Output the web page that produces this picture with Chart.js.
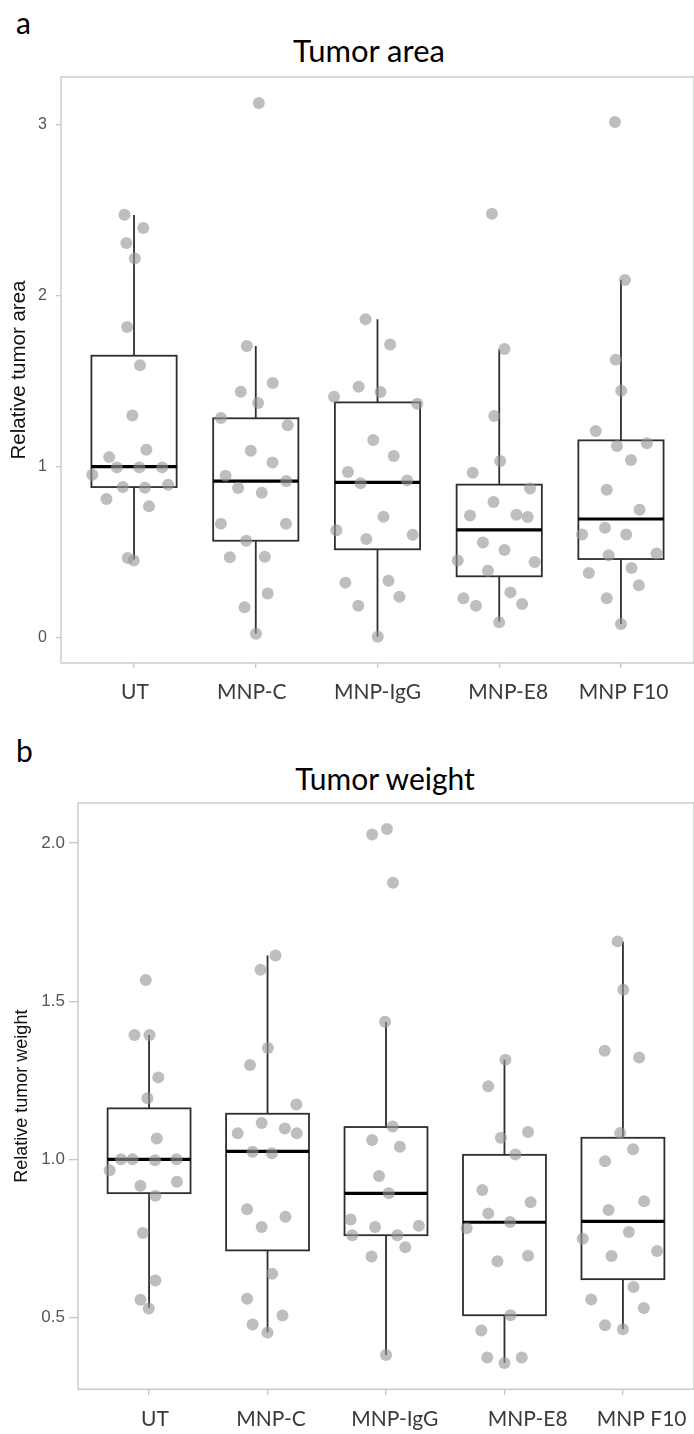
<!DOCTYPE html>
<html>
<head>
<meta charset="utf-8">
<script src="https://cdn.jsdelivr.net/npm/chart.js@4/dist/chart.umd.min.js"></script>
<style>
  html, body { margin: 0; padding: 0; background: #fff; overflow: hidden; }
  #page { position: relative; width: 694px; height: 1434px; overflow: hidden; background: #fff; }
  .wrap { position: absolute; left: 0; }
  .txt { position: absolute; font-family: Lato, "Open Sans", sans-serif; color: #000; line-height: 1; white-space: nowrap; }
</style>
</head>
<body>
<div id="page">
  <div class="txt" style="left:16px; top:7px; font-size:30px;">a</div>
  <div class="txt" style="left:369px; top:35px; font-size:31px; transform:translateX(-50%);">Tumor area</div>
  <div class="wrap" style="top:0;"><canvas id="chartArea" width="700" height="720"></canvas></div>

  <div class="txt" style="left:16px; top:735px; font-size:30px;">b</div>
  <div class="txt" style="left:385px; top:763px; font-size:30px; transform:translateX(-50%);">Tumor weight</div>
  <div class="wrap" style="top:730px;"><canvas id="chartWeight" width="700" height="704"></canvas></div>
</div>

<script>
// ---- shared categories ----
const categories = ["UT", "MNP-C", "MNP-IgG", "MNP-E8", "MNP F10"];

// ---- Tumor area: individual tumours (relative area) ----
const areaUT   = [2.475, 2.398, 2.310, 2.220, 1.819, 1.595, 1.302, 1.058, 1.101, 0.998, 0.998, 0.998, 0.955, 0.883, 0.879, 0.897, 0.813, 0.770, 0.468, 0.454];
const areaC    = [3.129, 1.708, 1.491, 1.440, 1.374, 1.287, 1.244, 1.095, 1.027, 0.949, 0.918, 0.877, 0.850, 0.669, 0.669, 0.569, 0.472, 0.476, 0.260, 0.180, 0.025];
const areaIgG  = [1.865, 1.717, 1.411, 1.470, 1.439, 1.370, 1.158, 1.064, 0.971, 0.905, 0.922, 0.709, 0.604, 0.579, 0.630, 0.324, 0.335, 0.242, 0.189, 0.008];
const areaE8   = [2.481, 1.690, 1.298, 1.035, 0.967, 0.875, 0.795, 0.717, 0.721, 0.708, 0.559, 0.515, 0.444, 0.454, 0.394, 0.267, 0.232, 0.189, 0.199, 0.092];
const areaF10  = [3.018, 2.094, 1.628, 1.446, 1.211, 1.123, 1.139, 1.041, 0.867, 0.750, 0.645, 0.606, 0.606, 0.484, 0.495, 0.409, 0.380, 0.308, 0.232, 0.082];

// horizontal jitter of each point (category units)
const areaJitUT  = [-0.079, 0.076, -0.063, 0.006, -0.057, 0.049, -0.014, -0.204, 0.101, -0.141, 0.043, 0.231, -0.343, -0.092, 0.090, 0.280, -0.226, 0.123, -0.052, -0.002];
const areaJitC   = [0.025, -0.074, 0.139, -0.123, 0.019, -0.286, 0.262, -0.041, 0.137, -0.248, 0.251, -0.145, 0.049, -0.286, 0.248, -0.079, -0.213, 0.074, 0.098, -0.092, 0.002];
const areaJitIgG = [-0.098, 0.104, -0.357, -0.155, 0.025, 0.327, -0.035, 0.133, -0.243, -0.139, 0.243, 0.049, 0.289, -0.092, -0.338, -0.264, 0.090, 0.180, -0.158, 0.002];
const areaJitE8  = [-0.060, 0.043, -0.041, 0.008, -0.218, 0.253, -0.047, -0.240, 0.141, 0.234, -0.134, 0.043, 0.291, -0.341, -0.093, 0.092, -0.294, -0.191, 0.188, 0.000];
const areaJitF10 = [-0.049, 0.033, -0.043, 0.002, -0.207, -0.033, 0.213, 0.082, -0.117, 0.153, -0.131, -0.319, 0.043, -0.101, 0.292, 0.087, -0.264, 0.147, -0.117, 0.000];

// box summaries: lower whisker, Q1, median, Q3, upper whisker
const areaLow  = [0.460, 0.027, 0.008, 0.096, 0.082];
const areaQ1   = [0.883, 0.569, 0.519, 0.361, 0.462];
const areaMed  = [1.002, 0.918, 0.910, 0.632, 0.696];
const areaQ3   = [1.651, 1.285, 1.378, 0.897, 1.156];
const areaHigh = [2.474, 1.708, 1.864, 1.688, 2.094];

const areaTicks      = [0, 1, 2, 3];
const areaTickLabels = ["0", "1", "2", "3"];

// ---- Tumor weight: individual tumours (relative weight) ----
const weightUT  = [1.567, 1.393, 1.393, 1.259, 1.193, 1.066, 1.000, 1.000, 0.997, 1.000, 0.965, 0.929, 0.916, 0.885, 0.767, 0.617, 0.556, 0.528];
const weightC   = [1.644, 1.599, 1.352, 1.298, 1.173, 1.115, 1.097, 1.082, 1.082, 1.024, 1.019, 0.842, 0.818, 0.786, 0.638, 0.559, 0.506, 0.478, 0.452];
const weightIgG = [2.027, 2.044, 1.874, 1.435, 1.104, 1.061, 1.040, 0.947, 0.893, 0.786, 0.790, 0.760, 0.722, 0.693, 0.381, 0.810, 0.760];
const weightE8  = [1.315, 1.231, 1.086, 1.068, 1.015, 0.903, 0.864, 0.829, 0.802, 0.782, 0.695, 0.678, 0.507, 0.459, 0.373, 0.373, 0.356];
const weightF10 = [1.689, 1.536, 1.343, 1.322, 1.083, 1.032, 0.994, 0.867, 0.840, 0.770, 0.749, 0.710, 0.694, 0.596, 0.557, 0.530, 0.475, 0.463];

const weightJitUT  = [-0.028, -0.123, 0.003, 0.078, -0.014, 0.065, -0.237, -0.140, 0.050, 0.232, -0.333, 0.235, -0.073, 0.053, -0.053, 0.053, -0.073, -0.003];
const weightJitC   = [0.067, -0.059, 0.003, -0.148, 0.243, -0.050, 0.146, -0.252, 0.247, -0.126, 0.037, -0.173, 0.151, -0.050, 0.039, -0.173, 0.126, -0.126, 0.000];
const weightJitIgG = [-0.117, 0.008, 0.059, -0.008, 0.056, -0.117, 0.117, -0.059, 0.023, -0.092, 0.277, 0.096, 0.163, -0.122, 0.000, -0.299, -0.285];
const weightJitE8  = [0.008, -0.137, 0.199, -0.030, 0.092, -0.187, 0.221, -0.137, 0.048, -0.319, 0.199, -0.059, 0.050, -0.195, -0.145, 0.146, 0.000];
const weightJitF10 = [-0.045, 0.003, -0.154, 0.137, -0.023, 0.086, -0.151, 0.179, -0.121, 0.050, -0.339, 0.288, -0.096, 0.089, -0.268, 0.176, -0.151, 0.000];

const weightLow  = [0.531, 0.453, 0.381, 0.357, 0.463];
const weightQ1   = [0.893, 0.712, 0.760, 0.507, 0.621];
const weightMed  = [1.000, 1.025, 0.892, 0.801, 0.804];
const weightQ3   = [1.161, 1.144, 1.102, 1.014, 1.068];
const weightHigh = [1.393, 1.644, 1.435, 1.315, 1.688];

const weightTicks      = [0.5, 1.0, 1.5, 2.0];
const weightTickLabels = ["0.5", "1.0", "1.5", "2.0"];

// ---- styling ----
const FRAME = "#c6c6c6";
const POINT = "rgba(150,150,150,0.62)";
const BOXLINE = "#2e2e2e";

// Box-and-whisker layer plus the panel frame, drawn beneath the points
const boxPlotPlugin = {
  id: "boxPlot",
  beforeDatasetsDraw(chart, args, opts) {
    const { ctx, chartArea, scales: { x, y } } = chart;
    ctx.save();
    // panel frame
    ctx.strokeStyle = FRAME;
    ctx.lineWidth = 1.3;
    ctx.strokeRect(chartArea.left, chartArea.top, chartArea.right - chartArea.left, chartArea.bottom - chartArea.top);

    opts.med.forEach((m, i) => {
      const xl = x.getPixelForValue(i - opts.halfWidth);
      const xr = x.getPixelForValue(i + opts.halfWidth);
      const xc = x.getPixelForValue(i);
      const yLow = y.getPixelForValue(opts.low[i]);
      const yQ1 = y.getPixelForValue(opts.q1[i]);
      const yMed = y.getPixelForValue(m);
      const yQ3 = y.getPixelForValue(opts.q3[i]);
      const yHigh = y.getPixelForValue(opts.high[i]);

      ctx.strokeStyle = BOXLINE;
      ctx.lineWidth = 1.8;
      ctx.beginPath();
      ctx.moveTo(xc, yQ3); ctx.lineTo(xc, yHigh);
      ctx.moveTo(xc, yQ1); ctx.lineTo(xc, yLow);
      ctx.stroke();

      ctx.strokeRect(xl, yQ3, xr - xl, yQ1 - yQ3);

      ctx.strokeStyle = "#000";
      ctx.lineWidth = 3.2;
      ctx.beginPath();
      ctx.moveTo(xl, yMed); ctx.lineTo(xr, yMed);
      ctx.stroke();
    });
    ctx.restore();
  }
};

function buildChart(canvasId, p) {
  const datasets = p.values.map((vals, g) => ({
    data: vals.map((v, k) => ({ x: g + p.jitter[g][k], y: v })),
    backgroundColor: POINT,
    borderWidth: 0,
    pointRadius: 6,
    pointHoverRadius: 6
  }));

  return new Chart(document.getElementById(canvasId), {
    type: "scatter",
    data: { datasets },
    plugins: [boxPlotPlugin],
    options: {
      responsive: false,
      animation: false,
      events: [],
      layout: { padding: { top: p.padTop, right: 2, left: 0, bottom: 0 } },
      plugins: {
        legend: { display: false },
        tooltip: { enabled: false },
        boxPlot: { low: p.low, q1: p.q1, med: p.med, q3: p.q3, high: p.high, halfWidth: 0.35 }
      },
      scales: {
        x: {
          type: "linear", position: "bottom", weight: 0,
          min: -0.6, max: 4.6,
          border: { display: false },
          grid: { drawOnChartArea: false, drawTicks: true, tickLength: p.xTickLen, color: FRAME, lineWidth: 1.3 },
          ticks: { display: false },
          afterBuildTicks: s => { s.ticks = categories.map((c, i) => ({ value: i })); },
          afterFit: s => { s.height = p.xTickLen; }
        },
        xl: {
          type: "linear", position: "bottom", weight: 1,
          min: -0.6, max: 4.6,
          border: { display: false },
          grid: { display: false },
          ticks: {
            autoSkip: false, maxRotation: 0, minRotation: 0,
            padding: p.xLabelPad,
            color: "#3a3a3a",
            font: { family: "Lato", size: p.xLabelSize },
            callback: (v, i) => categories[i]
          },
          afterBuildTicks: s => { s.ticks = categories.map((c, i) => ({ value: i + p.labelShift[i] })); },
          afterFit: s => { s.height = p.xLabelH; }
        },
        y: {
          type: "linear", position: "left",
          min: p.yMin, max: p.yMax,
          border: { display: false },
          grid: { drawOnChartArea: false, drawTicks: true, tickLength: p.yTickLen, color: FRAME, lineWidth: 1.3 },
          ticks: {
            padding: p.yTickPad,
            color: "#555555",
            font: { family: "Liberation Sans", size: p.yTickSize },
            callback: (v, i) => p.tickLabels[i]
          },
          afterBuildTicks: s => { s.ticks = p.ticks.map(v => ({ value: v })); },
          title: {
            display: true, text: p.yTitle, color: "#111",
            font: { family: "Liberation Sans", size: p.yTitleSize, lineHeight: 1.2 },
            padding: { top: p.yTitlePad, bottom: 0 }
          },
          afterFit: s => { s.width = p.yAxisW; }
        }
      }
    }
  });
}

buildChart("chartArea", {
  values: [areaUT, areaC, areaIgG, areaE8, areaF10],
  jitter: [areaJitUT, areaJitC, areaJitIgG, areaJitE8, areaJitF10],
  low: areaLow, q1: areaQ1, med: areaMed, q3: areaQ3, high: areaHigh,
  ticks: areaTicks, tickLabels: areaTickLabels,
  yMin: -0.146, yMax: 3.281,
  yTitle: "Relative tumor area", yTitleSize: 20.5, yTitlePad: 7,
  yTickSize: 16, yTickLen: 5, yTickPad: 9, yAxisW: 61,
  padTop: 77, xTickLen: 5, xLabelPad: 4, xLabelH: 52, xLabelSize: 21,
  labelShift: [0.008, -0.033, 0.0, 0.074, 0.021]
});

buildChart("chartWeight", {
  values: [weightUT, weightC, weightIgG, weightE8, weightF10],
  jitter: [weightJitUT, weightJitC, weightJitIgG, weightJitE8, weightJitF10],
  low: weightLow, q1: weightQ1, med: weightMed, q3: weightQ3, high: weightHigh,
  ticks: weightTicks, tickLabels: weightTickLabels,
  yMin: 0.2728, yMax: 2.1265,
  yTitle: "Relative tumor weight", yTitleSize: 18, yTitlePad: 11,
  yTickSize: 17, yTickLen: 9, yTickPad: 4, yAxisW: 78,
  padTop: 73, xTickLen: 6, xLabelPad: 3, xLabelH: 38.7, xLabelSize: 21,
  labelShift: [0.05, 0.029, 0.075, 0.196, 0.158]
});
</script>
</body>
</html>
